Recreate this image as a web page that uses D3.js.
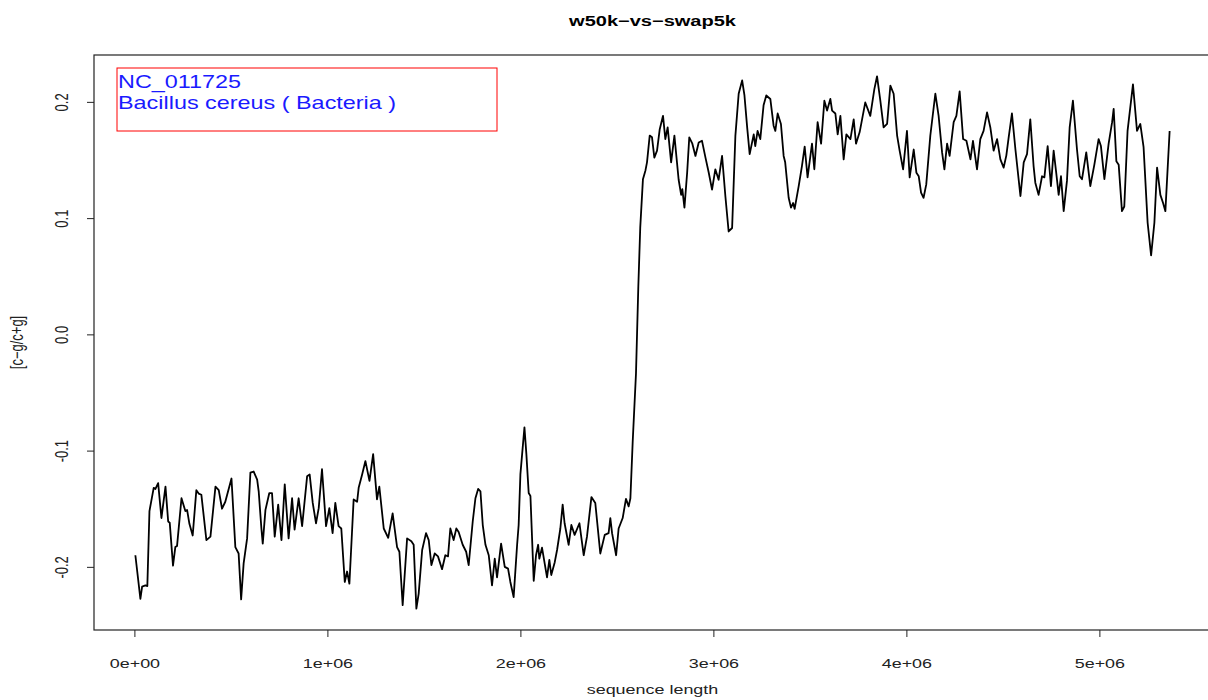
<!DOCTYPE html>
<html>
<head>
<meta charset="utf-8">
<script src="https://cdn.jsdelivr.net/npm/d3@7"></script>
<style>
  body { margin: 0; background: #fff; }
  text { font-family: "Liberation Sans", Arial, Helvetica, sans-serif; }
</style>
</head>
<body>
<div id="chart"></div>
<script>
// window start (kb) and skew value
const posKb = [5,31,40,57,67,78,100,109,123,140,161,175,183,200,212,221,244,264,273,285,302,321,333,347,373,394,420,437,454,471,503,523,540,553,566,584,601,618,636,644,658,665,679,699,713,727,745,762,779,799,817,830,851,869,895,908,924,941,955,972,993,1010,1027,1041,1058,1072,1090,1102,1114,1136,1154,1162,1180,1197,1218,1237,1257,1269,1292,1315,1338,1361,1373,1390,1413,1435,1447,1461,1473,1491,1511,1525,1539,1556,1573,1594,1611,1625,1637,1654,1668,1680,1701,1719,1732,1753,1767,1781,1793,1805,1819,1836,1853,1867,1879,1900,1919,1936,1948,1965,1983,1991,2000,2009,2021,2031,2043,2052,2069,2081,2092,2098,2112,2138,2150,2160,2178,2190,2207,2219,2229,2250,2264,2281,2306,2328,2345,2368,2388,2414,2437,2457,2466,2475,2496,2509,2530,2547,2561,2570,2582,2599,2611,2621,2635,2648,2656,2670,2682,2694,2708,2722,2739,2751,2763,2781,2798,2820,2833,2839,2850,2864,2875,2891,2907,2924,2941,2959,2976,2993,3010,3027,3045,3062,3079,3097,3114,3131,3149,3161,3175,3188,3209,3217,3229,3243,3260,3274,3295,3312,3321,3333,3350,3364,3372,3390,3402,3413,3421,3442,3459,3473,3488,3511,3523,3540,3558,3575,3589,3606,3615,3632,3644,3658,3675,3689,3710,3727,3739,3758,3787,3813,3834,3848,3865,3882,3900,3917,3934,3952,3965,3983,4003,4017,4038,4052,4064,4076,4089,4103,4124,4150,4167,4185,4197,4211,4224,4245,4259,4276,4294,4311,4332,4345,4366,4383,4400,4418,4435,4452,4470,4487,4504,4518,4530,4547,4565,4591,4608,4625,4642,4659,4668,4685,4703,4715,4732,4749,4763,4777,4789,4801,4815,4832,4846,4863,4884,4898,4910,4932,4953,4974,4996,5008,5026,5048,5066,5074,5088,5100,5117,5129,5146,5174,5195,5212,5229,5250,5268,5285,5299,5316,5330,5342,5364];
const skew = [-0.190,-0.2275,-0.217,-0.216,-0.2165,-0.152,-0.132,-0.133,-0.128,-0.158,-0.131,-0.161,-0.162,-0.199,-0.183,-0.182,-0.141,-0.152,-0.151,-0.163,-0.173,-0.134,-0.137,-0.138,-0.177,-0.174,-0.131,-0.134,-0.150,-0.144,-0.124,-0.183,-0.1885,-0.228,-0.197,-0.1755,-0.119,-0.118,-0.125,-0.135,-0.167,-0.180,-0.151,-0.1365,-0.1365,-0.174,-0.1465,-0.177,-0.129,-0.1755,-0.141,-0.168,-0.141,-0.165,-0.122,-0.1205,-0.145,-0.1625,-0.1495,-0.116,-0.165,-0.1495,-0.171,-0.145,-0.165,-0.167,-0.213,-0.204,-0.2145,-0.142,-0.144,-0.132,-0.1205,-0.109,-0.126,-0.103,-0.142,-0.131,-0.167,-0.175,-0.154,-0.183,-0.187,-0.233,-0.1755,-0.178,-0.181,-0.236,-0.223,-0.1855,-0.171,-0.177,-0.1985,-0.1885,-0.191,-0.202,-0.190,-0.191,-0.167,-0.177,-0.167,-0.170,-0.181,-0.187,-0.1985,-0.161,-0.141,-0.133,-0.135,-0.164,-0.181,-0.190,-0.216,-0.193,-0.209,-0.180,-0.200,-0.2015,-0.213,-0.226,-0.181,-0.164,-0.1205,-0.103,-0.080,-0.103,-0.1365,-0.139,-0.212,-0.190,-0.181,-0.193,-0.1835,-0.209,-0.194,-0.207,-0.196,-0.1855,-0.167,-0.1465,-0.1625,-0.181,-0.164,-0.1725,-0.1625,-0.190,-0.174,-0.140,-0.145,-0.1885,-0.1725,-0.171,-0.158,-0.171,-0.190,-0.167,-0.158,-0.1415,-0.148,-0.141,-0.092,-0.0335,0.041,0.092,0.1335,0.141,0.148,0.171,0.1695,0.152,0.158,0.1765,0.188,0.168,0.178,0.148,0.171,0.133,0.120,0.125,0.109,0.139,0.1695,0.164,0.1535,0.165,0.1665,0.152,0.139,0.1245,0.142,0.133,0.1535,0.119,0.0885,0.0915,0.171,0.207,0.2185,0.2055,0.178,0.155,0.172,0.162,0.175,0.168,0.197,0.2055,0.2025,0.1795,0.175,0.190,0.181,0.1535,0.148,0.1175,0.109,0.113,0.108,0.1275,0.145,0.1615,0.135,0.164,0.142,0.1825,0.164,0.201,0.1925,0.2025,0.1925,0.190,0.172,0.188,0.1505,0.172,0.168,0.185,0.164,0.174,0.1995,0.188,0.211,0.222,0.201,0.178,0.181,0.214,0.207,0.171,0.158,0.142,0.175,0.135,0.159,0.139,0.136,0.122,0.1175,0.129,0.171,0.207,0.188,0.1565,0.142,0.164,0.1535,0.1825,0.188,0.209,0.168,0.1665,0.1505,0.1665,0.142,0.168,0.175,0.191,0.178,0.158,0.168,0.1505,0.1435,0.154,0.1695,0.190,0.159,0.119,0.148,0.155,0.185,0.145,0.1305,0.120,0.136,0.135,0.162,0.1275,0.158,0.138,0.120,0.136,0.106,0.132,0.178,0.201,0.159,0.136,0.1335,0.1565,0.1275,0.146,0.168,0.162,0.1335,0.164,0.1825,0.194,0.149,0.146,0.106,0.110,0.175,0.215,0.175,0.181,0.161,0.096,0.068,0.096,0.1435,0.120,0.113,0.106,0.175];

const xTicks = [0, 1e6, 2e6, 3e6, 4e6, 5e6];
const xTickLabels = ["0e+00", "1e+06", "2e+06", "3e+06", "4e+06", "5e+06"];
const yTicks = [-0.2, -0.1, 0, 0.1, 0.2];
const yTickLabels = ["-0.2", "-0.1", "0.0", "0.1", "0.2"];
const legendLines = ["NC_011725", "Bacillus cereus ( Bacteria )"];

const width = 1208, height = 700;
const plotL = 94, plotR = 1211, plotT = 55, plotB = 630;
const sx = 1.38; // the original picture is stretched sideways

const data = posKb.map((p, i) => ({pos: p * 1000, v: skew[i]}));

// R style: extend the data range by 4% on each side
function pad(ext) {
  const r = ext[1] - ext[0];
  return [ext[0] - 0.04 * r, ext[1] + 0.04 * r];
}
const x = d3.scaleLinear().domain(pad(d3.extent(data, d => d.pos))).range([plotL, plotR]);
const y = d3.scaleLinear().domain(pad(d3.extent(data, d => d.v))).range([plotB, plotT]);

const svg = d3.select('#chart').append('svg')
  .attr('width', width).attr('height', height)
  .style('background', '#fff');

// line
svg.append('path')
  .datum(data)
  .attr('fill', 'none')
  .attr('stroke', '#000')
  .attr('stroke-width', 1.8)
  .attr('stroke-linejoin', 'round')
  .attr('d', d3.line().x(d => x(d.pos)).y(d => y(d.v)));

// axes
const xAxis = svg.append('g')
  .attr('transform', `translate(0,${plotB})`)
  .call(d3.axisBottom(x).tickValues(xTicks).tickSize(7).tickFormat((d, i) => xTickLabels[i]));
xAxis.select('.domain').remove();
xAxis.selectAll('line').attr('stroke', '#222');
xAxis.selectAll('text')
  .attr('y', 0).attr('dy', 0)
  .attr('transform', `translate(0,38) scale(${sx},1)`)
  .attr('font-size', 13).attr('fill', '#222')
  .style('font-family', '"Liberation Sans", Arial, sans-serif');

const yAxis = svg.append('g')
  .attr('transform', `translate(${plotL},0)`)
  .call(d3.axisLeft(y).tickValues(yTicks).tickSize(7).tickFormat((d, i) => yTickLabels[i]));
yAxis.select('.domain').remove();
yAxis.selectAll('line').attr('stroke', '#222');
yAxis.selectAll('text')
  .attr('x', 0).attr('y', -19).attr('dy', 0)
  .attr('text-anchor', 'middle')
  .attr('transform', `scale(${sx},1) rotate(-90)`)
  .attr('font-size', 13).attr('fill', '#222')
  .style('font-family', '"Liberation Sans", Arial, sans-serif');

// box
svg.append('rect')
  .attr('x', plotL).attr('y', plotT)
  .attr('width', plotR - plotL).attr('height', plotB - plotT)
  .attr('fill', 'none').attr('stroke', '#222').attr('stroke-width', 1.2);

// titles
const mid = (plotL + plotR) / 2;
svg.append('text')
  .attr('transform', `translate(${mid},26) scale(${sx},1)`)
  .attr('text-anchor', 'middle')
  .attr('font-size', 14.5).attr('font-weight', 'bold')
  .text('w50k\u2212vs\u2212swap5k');

svg.append('text')
  .attr('transform', `translate(${mid},694) scale(${sx},1)`)
  .attr('text-anchor', 'middle')
  .attr('font-size', 13).attr('fill', '#222')
  .text('sequence length');

svg.append('text')
  .attr('transform', `translate(23,${(plotT + plotB) / 2}) scale(${sx},1) rotate(-90)`)
  .attr('text-anchor', 'middle')
  .attr('font-size', 13).attr('fill', '#222')
  .text('[c\u2212g/c+g]');

// legend box
svg.append('rect')
  .attr('x', 117).attr('y', 68).attr('width', 380).attr('height', 63)
  .attr('fill', 'none').attr('stroke', '#ff0000').attr('stroke-width', 1);

svg.selectAll('.leg')
  .data(legendLines)
  .enter().append('text')
  .attr('class', 'leg')
  .attr('transform', (d, i) => `translate(118,${88 + i * 21}) scale(1.3,1)`)
  .attr('font-size', 18)
  .attr('fill', '#1a1aff')
  .text(d => d);
</script>
</body>
</html>
